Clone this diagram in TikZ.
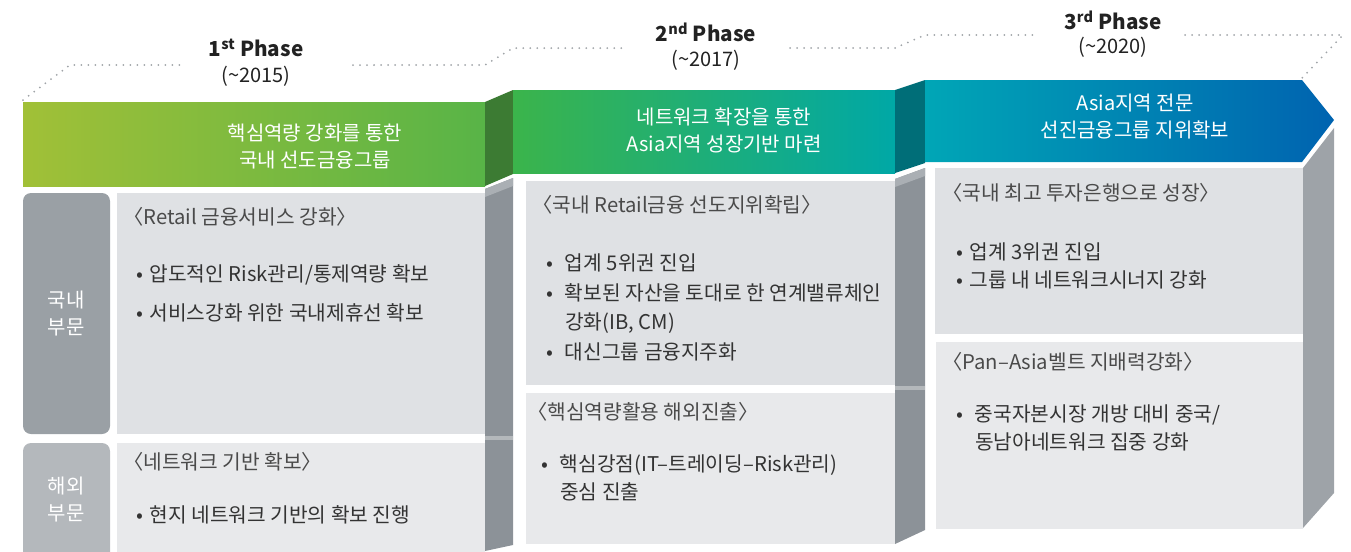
\documentclass[tikz,border=0pt]{standalone}
\usepackage{fontspec}
\setmainfont{Noto Sans CJK KR}
\usetikzlibrary{positioning}

\definecolor{hdrAl}{HTML}{A1C037}
\definecolor{hdrAr}{HTML}{58B447}
\definecolor{hdrBl}{HTML}{3BB44B}
\definecolor{hdrBr}{HTML}{00A8A6}
\definecolor{hdrCl}{HTML}{00A6B6}
\definecolor{hdrCr}{HTML}{0063B0}
\definecolor{sideA}{HTML}{3C7B33}
\definecolor{sideB}{HTML}{006E78}
\definecolor{sidegray}{HTML}{8C9298}
\definecolor{sidegrayC}{HTML}{9EA3A8}
\definecolor{sidetop}{HTML}{AAAFB4}
\definecolor{boxup}{HTML}{DFE1E4}
\definecolor{boxlo}{HTML}{E8E9EB}
\definecolor{lblup}{HTML}{9AA0A5}
\definecolor{lbllo}{HTML}{B4B8BC}
\definecolor{txtgray}{HTML}{333333}
\definecolor{ttlgray}{HTML}{4A4A4A}
\definecolor{phgray}{HTML}{222222}
\definecolor{dotgray}{HTML}{A0A4A8}

\newcommand\bul[1]{\makebox[#1][l]{\textbullet}}

\tikzset{
  txt/.style={anchor=west,inner sep=0pt,text=txtgray,font=\fontsize{15.2}{18}\selectfont},
  ttl/.style={txt,text=ttlgray},
  hdr/.style={align=center,text=white,inner sep=0pt,font=\fontsize{15}{20.25}\selectfont},
  lbl/.style={hdr,font=\fontsize{15}{20.25}\selectfont},
  phase/.style={inner sep=0pt,text=phgray,font=\bfseries\fontsize{15.5}{18}\selectfont},
  yr/.style={inner sep=0pt,text=phgray,font=\fontsize{15}{16}\selectfont},
  dots/.style={draw=dotgray,line width=1.5pt,dash pattern=on 0pt off 5.25pt,line cap=round},
  seam/.style={draw=white,draw opacity=.35,line width=2.5pt},
}

\begin{document}
\begin{tikzpicture}[x=0.75pt,y=-0.75pt]
\useasboundingbox (0,0) rectangle (1351,551);
\clip (0,0) rectangle (1351,551);

\draw[dots] (23,100) -- (70,65) -- (183,65);
\draw[dots] (353,65) -- (485,65) -- (513,48) -- (623,48);
\draw[dots] (790,48) -- (895,48) -- (925,35) -- (1037,35);
\draw[dots] (1185,35) -- (1343,35) -- (1302,78);

\node[phase] (ph1) at (256,48) {1\textsuperscript{st} Phase};
\node[yr] (yr1) at (256,76) {(\textasciitilde2015)};
\node[phase] (ph2) at (706,32) {2\textsuperscript{nd} Phase};
\node[yr] (yr2) at (706,60) {(\textasciitilde2017)};
\node[phase] (ph3) at (1113,20) {3\textsuperscript{rd} Phase};
\node[yr] (yr3) at (1113,47) {(\textasciitilde2020)};

\shade[left color=hdrAl,right color=hdrAr] (23,102) rectangle (485,186);
\fill[sideA] (485,102) -- (513,90) -- (513,174) -- (485,186) -- cycle;
\fill[sidegray] (485,189) -- (513,178) -- (513,545) -- (485,551) -- cycle;
\fill[sidetop] (485,189) -- (513,178) -- (513,186) -- (485,197) -- cycle;
\draw[seam] (485,438) -- (513,438);
\fill[boxup] (117,193) rectangle (485,434);
\fill[boxlo] (117,443) rectangle (485,560);
\fill[lblup,rounded corners=6pt] (23,193) rectangle (110,434);
\fill[lbllo,rounded corners=6pt] (23,443) rectangle (110,570);

\shade[left color=hdrBl,right color=hdrBr] (513,90) rectangle (895,173);
\fill[sideB] (895,90) -- (925,80) -- (925,163) -- (895,173) -- cycle;
\fill[sidegray] (895,179) -- (925,168) -- (925,530) -- (895,544) -- cycle;
\fill[sidetop] (895,179) -- (925,168) -- (925,176) -- (895,187) -- cycle;
\draw[seam] (895,388) -- (925,388);
\fill[boxup] (526,181) rectangle (895,385);
\fill[boxlo] (526,393) rectangle (895,544);

\shade[left color=hdrCl,right color=hdrCr] (925,80) -- (1302,80) -- (1334,120) -- (1302,162) -- (925,162) -- cycle;
\fill[sidegrayC] (1303,168) -- (1334,128) -- (1334,493) -- (1303,528) -- cycle;
\fill[boxup] (935,168) rectangle (1303,334);
\fill[boxlo] (936,342) rectangle (1303,529);

\node[hdr] (h1) at (315,146.5) {핵심역량 강화를 통한\\국내 선도금융그룹};
\node[hdr] (h2) at (724,130) {네트워크 확장을 통한\\Asia지역 성장기반 마련};
\node[hdr] (h3) at (1135,116.5) {Asia지역 전문\\선진금융그룹 지위확보};

\node[lbl] (l1) at (66,313.5) {국내\\부문};
\node[lbl] (l2) at (66,499) {해외\\부문};

\node[ttl] (t11) at (123,217) {〈Retail 금융서비스 강화〉};
\node[txt] (b11) at (136,275) {\bul{10pt}압도적인 Risk관리/통제역량 확보};
\node[txt] (b12) at (136,313) {\bul{10pt}서비스강화 위한 국내제휴선 확보};
\node[ttl] (t12) at (123,462) {〈네트워크 기반 확보〉};
\node[txt] (b13) at (136,515) {\bul{10pt}현지 네트워크 기반의 확보 진행};

\node[ttl] (t21) at (532,205) {〈국내 Retail금융 선도지위확립〉};
\node[txt] (b21) at (546,263) {\bul{14pt}업계 5위권 진입};
\node[txt] (b22) at (546,293) {\bul{14pt}확보된 자산을 토대로 한 연계밸류체인};
\node[txt] (c22) at (565,323) {강화(IB, CM)};
\node[txt] (b23) at (546,352) {\bul{14pt}대신그룹 금융지주화};
\node[ttl] (t22) at (527,412) {〈핵심역량활용 해외진출〉};
\node[txt] (b24) at (541,465) {\bul{14pt}핵심강점(IT–트레이딩–Risk관리)};
\node[txt] (c24) at (560,492) {중심 진출};

\node[ttl] (t31) at (942,193) {〈국내 최고 투자은행으로 성장〉};
\node[txt] (b31) at (956,252) {\bul{10pt}업계 3위권 진입};
\node[txt] (b32) at (956,280) {\bul{10pt}그룹 내 네트워크시너지 강화};
\node[ttl] (t32) at (942,362) {〈Pan–Asia벨트 지배력강화〉};
\node[txt] (b33) at (956,415) {\bul{14pt}중국자본시장 개방 대비 중국/};
\node[txt] (c33) at (975,442) {동남아네트워크 집중 강화};
\end{tikzpicture}
\end{document}
